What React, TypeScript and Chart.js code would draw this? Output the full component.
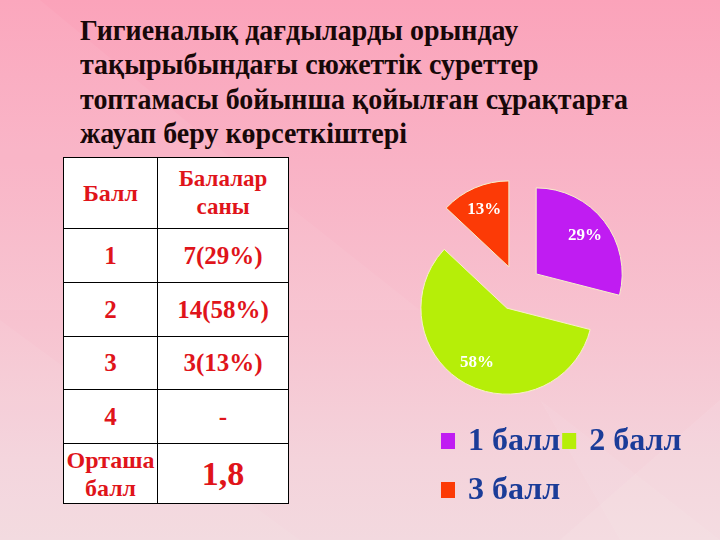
import React, { useEffect, useRef } from "react";
import { Chart, registerables } from "chart.js";

Chart.register(...registerables);

// ---- data ----
const categories = ["1 балл", "2 балл", "3 балл"];
const shares = [29, 58, 13];
const sliceColors = ["#c01cf2", "#b6ee08", "#fc3a06"];
const titleLines = [
  "Гигиеналық дағдыларды орындау",
  "тақырыбындағы сюжеттік суреттер",
  "топтамасы бойынша қойылған сұрақтарға",
  "жауап беру көрсеткіштері",
];
const tableHeader = ["Балл", "Балалар саны"];
const tableScores = ["1", "2", "3", "4"];
const tableCounts = ["7(29%)", "14(58%)", "3(13%)", "-"];
const averageLabel = "Орташа балл";
const averageValue = "1,8";

const SERIF = "'Liberation Serif', 'Times New Roman', serif";

const explodePlugin = {
  id: "explode",
  afterDatasetsUpdate(chart: any) {
    const meta = chart.getDatasetMeta(0);
    meta.data.forEach((arc: any) => {
      const mid = (arc.startAngle + arc.endAngle) / 2;
      arc.x += Math.cos(mid) * 23;
      arc.y += Math.sin(mid) * 23;
    });
  },
};

const labelPlugin = {
  id: "sliceLabels",
  afterDatasetsDraw(chart: any) {
    const ctx = chart.ctx;
    const meta = chart.getDatasetMeta(0);
    ctx.save();
    ctx.font = `bold 17px ${SERIF}`;
    ctx.fillStyle = "#ffffff";
    ctx.textAlign = "center";
    ctx.textBaseline = "middle";
    meta.data.forEach((arc: any, i: number) => {
      const mid = (arc.startAngle + arc.endAngle) / 2;
      const r = arc.outerRadius * 0.72;
      ctx.fillText(`${chart.data.datasets[0].data[i]}%`, arc.x + Math.cos(mid) * r, arc.y + Math.sin(mid) * r);
    });
    ctx.restore();
  },
};

const legendPlugin = {
  id: "slideLegend",
  afterDraw(chart: any) {
    const ctx = chart.ctx;
    const labels: string[] = chart.data.labels;
    const colors: string[] = chart.data.datasets[0].backgroundColor;
    ctx.save();
    ctx.font = `bold 32px ${SERIF}`;
    ctx.textBaseline = "middle";
    ctx.textAlign = "left";
    const startX = 441;
    const maxX = 712;
    let x = startX;
    let y = 441;
    labels.forEach((text, i) => {
      const w = ctx.measureText(text).width;
      const itemW = 14 + 13 + w;
      if (x > startX && x + itemW > maxX) {
        x = startX;
        y += 49;
      }
      ctx.fillStyle = colors[i];
      ctx.fillRect(x, y - 8, 14, 16);
      ctx.fillStyle = "#1b3c98";
      ctx.fillText(text, x + 27, y + 1);
      x += itemW + 2;
    });
    ctx.restore();
  },
};

function PieChart() {
  const ref = useRef<HTMLCanvasElement | null>(null);
  useEffect(() => {
    if (!ref.current) return;
    const chart = new Chart(ref.current, {
      type: "pie",
      data: {
        labels: categories,
        datasets: [
          {
            data: shares,
            backgroundColor: sliceColors,
            borderColor: "#f6f0c8",
            borderWidth: 1,
          },
        ],
      },
      options: {
        responsive: false,
        animation: false,
        radius: 86,
        layout: { padding: { left: 418, right: 102, top: 188, bottom: 152 } },
        plugins: {
          legend: { display: false },
          tooltip: { enabled: false },
        },
      } as any,
      plugins: [explodePlugin, labelPlugin, legendPlugin],
    });
    return () => chart.destroy();
  }, []);
  return (
    <canvas
      ref={ref}
      width={720}
      height={540}
      style={{ position: "absolute", left: 0, top: 0, width: 720, height: 540 }}
    />
  );
}

const cell: React.CSSProperties = {
  border: "1.5px solid #000",
  background: "#ffffff",
  color: "#e0141a",
  fontFamily: SERIF,
  fontWeight: "bold",
  textAlign: "center",
  verticalAlign: "middle",
  padding: 0,
};

export default function App() {
  const rowHeights = [54, 54, 53, 54];
  return (
    <div
      style={{
        position: "fixed",
        left: 0,
        top: 0,
        width: 720,
        height: 540,
        overflow: "hidden",
        background: "linear-gradient(180deg, #fba3ba 0%, #f9b2c5 30%, #f7c3d0 60%, #f4d3db 85%, #f3d9df 100%)",
      }}
    >
      <svg width={720} height={540} style={{ position: "absolute", left: 0, top: 0 }}>
        <polygon points="0,0 40,0 300,215 420,310 0,310" fill="#ffffff" opacity={0.05} />
        <polygon points="0,320 0,540 300,540" fill="#ffffff" opacity={0.06} />
        <polygon points="560,540 720,400 720,540" fill="#ffffff" opacity={0.08} />
        <polygon points="540,400 720,540 620,540" fill="#ffffff" opacity={0.06} />
      </svg>
      <div
        style={{
          position: "absolute",
          left: 80,
          top: 13,
          fontFamily: SERIF,
          fontWeight: "bold",
          fontSize: 29,
          lineHeight: "33px",
          color: "#170808",
          whiteSpace: "nowrap",
          transform: "scale(0.965, 1.04)",
          transformOrigin: "0 0",
        }}
      >
        {titleLines.map((l, i) => (
          <div key={i}>{l}</div>
        ))}
      </div>
      <table
        style={{
          position: "absolute",
          left: 63,
          top: 157,
          borderCollapse: "collapse",
          tableLayout: "fixed",
          width: 223,
        }}
      >
        <tbody>
          <tr style={{ height: 71 }}>
            <td style={{ ...cell, width: 93, fontSize: 24 }}>{tableHeader[0]}</td>
            <td style={{ ...cell, width: 130, fontSize: 23, lineHeight: "28px" }}>
              {tableHeader[1].split(" ").map((w, i) => (
                <div key={i}>{w}</div>
              ))}
            </td>
          </tr>
          {tableScores.map((s, i) => (
            <tr key={i} style={{ height: rowHeights[i] }}>
              <td style={{ ...cell, fontSize: 25 }}>{s}</td>
              <td style={{ ...cell, fontSize: 25 }}>{tableCounts[i]}</td>
            </tr>
          ))}
          <tr style={{ height: 60 }}>
            <td style={{ ...cell, fontSize: 24, lineHeight: "28px", overflow: "visible", whiteSpace: "nowrap" }}>
              {averageLabel.split(" ").map((w, i) => (
                <div key={i} style={{ marginLeft: -6, marginRight: -6 }}>{w}</div>
              ))}
            </td>
            <td style={{ ...cell, fontSize: 34 }}>{averageValue}</td>
          </tr>
        </tbody>
      </table>
      <PieChart />
    </div>
  );
}
